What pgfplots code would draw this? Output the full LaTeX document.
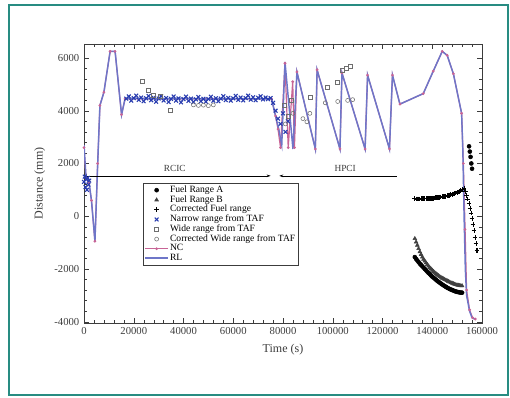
\documentclass[border=0pt]{standalone}
\usepackage{pgfplots}
\pgfplotsset{compat=1.18}
\usetikzlibrary{arrows.meta}
\usepackage{fontspec}
\setmainfont{Liberation Serif}
\definecolor{teal1}{RGB}{40,140,130}
\definecolor{rlblue}{RGB}{110,118,200}
\definecolor{nrblue}{RGB}{40,60,175}
\definecolor{ncpink}{RGB}{200,100,150}
\definecolor{axgray}{RGB}{60,60,60}
\definecolor{mgray}{RGB}{110,110,110}
\begin{document}
\begin{tikzpicture}
\useasboundingbox (0,0) rectangle (382.5pt,297.75pt);
\fill[white] (0,0) rectangle (382.5pt,297.75pt);
\draw[teal1, line width=1pt] (6.75pt,1.5pt) rectangle (381pt,294pt);
\begin{axis}[
  at={(63pt,55.5pt)}, anchor=south west,
  scale only axis, width=298.5pt, height=209.25pt,
  xmin=0, xmax=160000, ymin=-4050, ymax=6530,
  xtick={0,20000,40000,60000,80000,100000,120000,140000,160000},
  xticklabels={0,20000,40000,60000,80000,100000,120000,140000,160000},
  ytick={-4000,-2000,0,2000,4000,6000},
  yticklabels={-4000,-2000,0,2000,4000,6000},
  scaled x ticks=false, scaled y ticks=false,
  minor x tick num=4, minor y tick num=4,
  tick label style={font=\fontsize{8}{9}\selectfont, text=axgray},
  label style={font=\fontsize{9}{10}\selectfont, text=axgray},
  xlabel={Time (s)}, ylabel={Distance (mm)},
  axis line style={axgray}, tick style={axgray},
  major tick length=4pt, minor tick length=2pt,
  legend cell align=left,
  legend style={at={(0.148,0.502)}, anchor=north west,
    font=\fontsize{7.2}{8}\selectfont, draw=axgray, fill=white,
    inner sep=1pt, row sep=-1.2pt, nodes={inner sep=1pt}},
]
% NC and RL lines (drawn first)
\addplot[ncpink, line width=0.9pt, mark=*, mark size=0.5pt, forget plot] coordinates {
(0,2600) (800,1450) (2000,1250) (3000,600) (4400,-950) (5500,2000) (6400,4200) (8000,4700)
(10500,6250) (12500,6250) (15100,3850) (16500,4450) (75400,4450) (77000,3800) (78000,3300)
(79000,2600) (80800,5800) (82100,2600) (83900,5100) (84600,2600) (85600,5470) (93000,2550)
(93700,5550) (102900,2550) (103700,5430) (113000,2550) (114000,5350) (122800,2550)
(124000,5350) (127000,4250) (136400,4650) (140400,5500) (144000,6250) (146000,6100)
(148500,5400) (151800,3900) (152500,2000) (153200,-500) (153800,-2800) (155000,-3550)
(156200,-3850) (157300,-3900)};
\addplot[rlblue, line width=1.1pt, forget plot] coordinates {
(0,2700) (800,1500) (2000,1300) (3000,600) (4400,-950) (5500,2000) (6400,4200) (8000,4700)
(10500,6250) (12500,6250) (15100,3850) (16500,4450) (20000,4480) (30000,4450) (40000,4470)
(50000,4440) (60000,4460) (70000,4450) (75400,4450) (77000,3800) (78300,3300)
(79500,2700) (80800,5850) (84000,2550) (85600,5470) (93000,2550) (93700,5550)
(102900,2550) (103700,5430) (113000,2550) (114000,5350) (122800,2550) (124000,5350)
(127000,4250) (136400,4650) (140400,5500) (144000,6250) (146000,6100)
(148500,5400) (151800,3900) (152300,2500) (152800,0) (153300,-2000) (153800,-3000)
(155000,-3600) (156000,-3850) (157000,-3900)};
% RCIC / HPCI annotation
\addplot[black, thin, -{Stealth[length=3pt,width=2pt]}, forget plot] coordinates {(0,1530) (75000,1530)};
\addplot[black, thin, {Stealth[length=3pt,width=2pt]}-, forget plot] coordinates {(78500,1530) (126000,1530)};
\node[font=\fontsize{7}{8}\selectfont, text=axgray, anchor=south] at (axis cs:36500,1500) {RCIC};
\node[font=\fontsize{7}{8}\selectfont, text=axgray, anchor=south] at (axis cs:105000,1500) {HPCI};
% Fuel Range A
\addplot[only marks, mark=*, mark size=1.5pt, black] coordinates {
(133000,-1550) (133500,-1620) (134000,-1680) (134500,-1740) (135000,-1800) (135500,-1850)
(136000,-1900) (136500,-1950) (137000,-2000) (137500,-2050) (138000,-2100) (138500,-2150)
(139000,-2200) (139500,-2245) (140000,-2290) (140500,-2330) (141000,-2370) (141500,-2410)
(142000,-2450) (142500,-2485) (143000,-2520) (143500,-2555) (144000,-2590) (144500,-2620)
(145000,-2650) (145500,-2680) (146000,-2710) (146500,-2735) (147000,-2760) (147500,-2780)
(148000,-2800) (148500,-2820) (149000,-2840) (149500,-2855) (150000,-2870) (150500,-2880)
(151000,-2890) (151500,-2895) (152000,-2900)
(154800,2650) (155100,2450) (155400,2250) (155700,2000) (156000,1800)};
\addlegendentry{Fuel Range A}
% Fuel Range B
\addplot[only marks, mark=triangle*, mark size=1.6pt, black!75] coordinates {
(133000,-850) (133500,-980) (134000,-1100) (134500,-1230) (135000,-1350) (135500,-1450)
(136000,-1550) (136500,-1630) (137000,-1700) (137500,-1770) (138000,-1830) (138500,-1890)
(139000,-1950) (139500,-2000) (140000,-2050) (140500,-2095) (141000,-2140) (141500,-2180)
(142000,-2220) (142500,-2255) (143000,-2290) (143500,-2320) (144000,-2350) (144500,-2375)
(145000,-2400) (145500,-2425) (146000,-2450) (146500,-2475) (147000,-2500) (147500,-2520)
(148000,-2540) (148500,-2560) (149000,-2580) (149500,-2595) (150000,-2610) (150500,-2620)
(151000,-2630) (151500,-2635) (152000,-2640)};
\addlegendentry{Fuel Range B}
% Corrected Fuel range
\addplot[only marks, mark=+, mark size=1.8pt, black, thick] coordinates {
(133000,660) (133500,655) (134000,650) (134500,652) (135000,655) (135500,658) (136000,660)
(136500,661) (137000,662) (137500,663) (138000,665) (138500,667) (139000,670) (139500,674)
(140000,678) (140500,684) (141000,690) (141500,695) (142000,700) (142500,707) (143000,715)
(143500,725) (144000,735) (144500,742) (145000,750) (145500,762) (146000,775) (146500,788)
(147000,800) (147500,815) (148000,830) (148500,845) (149000,860) (149500,880) (150000,900)
(150500,920) (151000,940) (151500,970) (152000,1000) (152800,1060)
(153300,950) (153800,800) (154300,650) (154800,480) (155200,300) (155600,120) (156000,-80)
(156400,-300) (156800,-550) (157200,-800) (157600,-1050) (158000,-1300)};
\addlegendentry{Corrected Fuel range}
% Narrow range from TAF
\addplot[only marks, mark=x, mark size=2pt, nrblue, thick] coordinates {
(0,1300) (300,1500) (600,1100) (900,1400) (1200,1000) (1500,1450) (1800,1200) (2100,1350)
(17000,4460) (18000,4540) (19000,4380) (20000,4480) (21000,4570) (22000,4410) (23000,4500)
(24000,4360) (25000,4470) (26000,4560) (27000,4400) (28000,4490) (29000,4340) (30000,4460)
(31000,4550) (32000,4390) (33000,4480) (34000,4330) (35000,4450) (36000,4540) (37000,4380)
(38000,4470) (39000,4320) (40000,4440) (41000,4530) (42000,4370) (43000,4460) (44000,4330)
(45000,4430) (46000,4520) (47000,4360) (48000,4450) (49000,4340) (50000,4440) (51000,4530)
(52000,4380) (53000,4470) (54000,4360) (55000,4460) (56000,4550) (57000,4400) (58000,4490)
(59000,4380) (60000,4470) (61000,4560) (62000,4410) (63000,4500) (64000,4390) (65000,4480)
(66000,4570) (67000,4420) (68000,4510) (69000,4400) (70000,4490) (71000,4550) (72000,4430)
(73000,4500) (74000,4440) (75000,4480)
(76000,4300) (77000,4000) (78000,3700) (79000,3500) (80000,3900) (81000,3200) (82000,3600)};
\addlegendentry{Narrow range from TAF}
% Wide range from TAF
\addplot[only marks, mark=square, mark size=1.5pt, mgray] coordinates {
(23300,5100) (25700,4780) (28000,4600) (30500,4550) (34600,4030)
(80500,4200) (82000,3800) (83500,4400) (90800,4520) (97600,4900) (101700,5090)
(104000,5550) (105500,5620) (107000,5680)};
\addlegendentry{Wide range from TAF}
% Corrected Wide range from TAF
\addplot[only marks, mark=o, mark size=1.5pt, mgray] coordinates {
(44000,4220) (46000,4200) (48000,4210) (50000,4190) (52000,4220)
(81000,3500) (84000,3900) (88000,3700) (89600,3580) (90800,3900) (97000,4300)
(102000,4350) (106000,4390) (108000,4420)};
\addlegendentry{Corrected Wide range from TAF}
\addlegendimage{ncpink, line width=0.9pt, mark=*, mark size=0.5pt}
\addlegendentry{NC}
\addlegendimage{rlblue, line width=1.1pt}
\addlegendentry{RL}
\end{axis}
\end{tikzpicture}
\end{document}
